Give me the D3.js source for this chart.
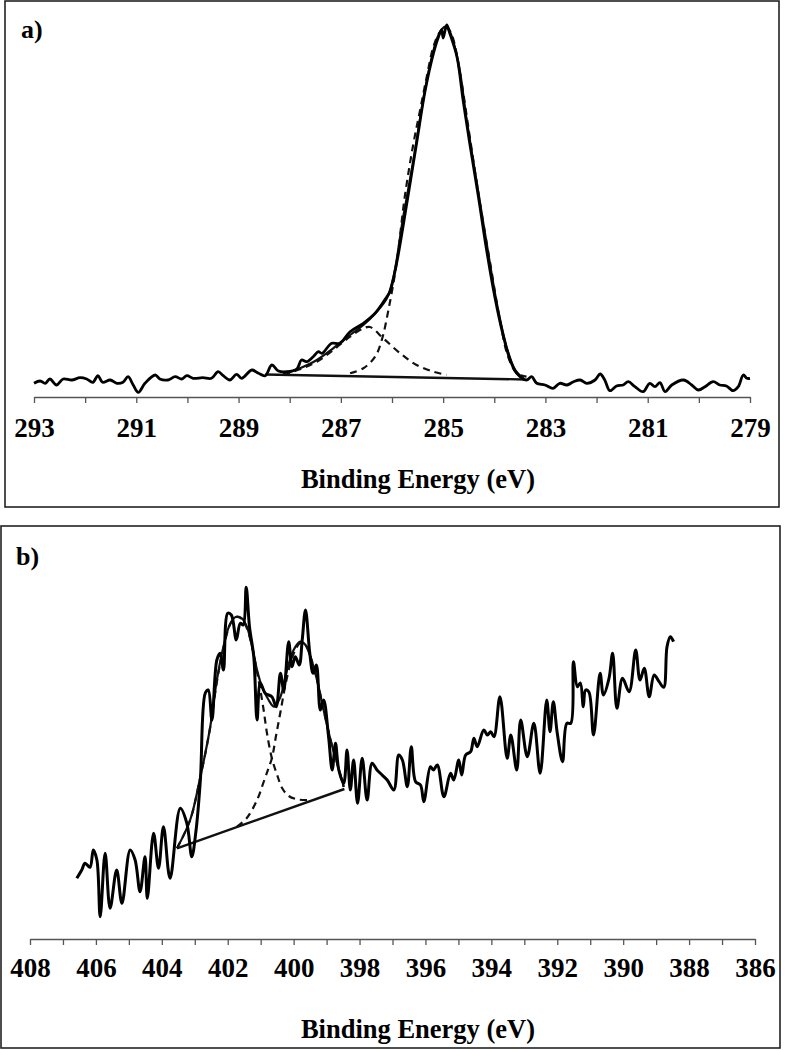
<!DOCTYPE html>
<html>
<head>
<meta charset="utf-8">
<script src="https://cdn.jsdelivr.net/npm/d3@7"></script>
<style>
  html, body { margin: 0; padding: 0; background: #fff; }
  svg { display: block; }
  text { font-family: "Liberation Serif", "Times New Roman", serif; font-weight: bold; fill: #000; }
</style>
</head>
<body>
<div id="chart"></div>
<script>
// C 1s region, panel a) : [binding energy (eV), intensity (a.u.)]
const c1sRaw = [
  [293.00, 13.7], [292.88, 16], [292.78, 13.7], [292.69, 18], [292.56, 12], [292.43, 18],
  [292.26, 17], [292.10, 19.3], [291.97, 18], [291.85, 14.7], [291.75, 21.3], [291.66, 14.7],
  [291.51, 17], [291.38, 13.7], [291.26, 14.7], [291.16, 20.3], [291.06, 12], [290.96, 4.7],
  [290.83, 13.7], [290.63, 22], [290.54, 18], [290.38, 17], [290.24, 20.3], [290.11, 18],
  [290.01, 21.3], [289.89, 18.7], [289.70, 19.3], [289.53, 18.7], [289.40, 25.3], [289.30, 21.3],
  [289.17, 17], [289.04, 22.7], [288.94, 18.7], [288.74, 27], [288.61, 23.7], [288.48, 21.3],
  [288.35, 32], [288.22, 26], [288.06, 25.3], [287.86, 28], [287.77, 37], [287.67, 35.3],
  [287.54, 40.3], [287.44, 45.3], [287.37, 43.7], [287.18, 53.7], [287.02, 53.7], [286.82, 65.3],
  [286.56, 73.7], [286.33, 83.7], [286.10, 100.3], [286.04, 105.3], [285.91, 133.7], [285.71, 193.7],
  [285.52, 253.7], [285.35, 307], [285.19, 343.7], [285.09, 360.3], [285.03, 367], [285.00, 359],
  [284.93, 372], [284.87, 363.7], [284.73, 340.3], [284.61, 297], [284.48, 253.7], [284.31, 200.3],
  [284.15, 147], [283.99, 100.3], [283.82, 60.3], [283.69, 37], [283.56, 23.7], [283.37, 17],
  [283.27, 20.3], [283.17, 13.7], [283.01, 12], [282.85, 8.7], [282.72, 13.7], [282.58, 12],
  [282.45, 15.3], [282.32, 17], [282.19, 13.7], [282.03, 17], [281.93, 23], [281.84, 17],
  [281.74, 6.3], [281.61, 11], [281.48, 12], [281.38, 15.3], [281.25, 10.3], [281.09, 5.3],
  [280.96, 13.7], [280.86, 10.3], [280.76, 14.3], [280.66, 5.3], [280.53, 12], [280.30, 17],
  [280.14, 12], [280.01, 7], [279.88, 10.3], [279.72, 15.3], [279.59, 12], [279.46, 11],
  [279.33, 6.3], [279.23, 10.3], [279.13, 22], [279.06, 18.7], [279.00, 18.7]
];
const c1sEnvelope = [
  [288.13, 22.5], [287.80, 28.7], [287.47, 37], [287.15, 48.7], [286.82, 62], [286.56, 72],
  [286.30, 85.3], [286.10, 98.7], [285.97, 120.3], [285.78, 180.3], [285.58, 237], [285.39, 297],
  [285.22, 340.3], [285.09, 362], [284.96, 370.3], [284.87, 365.3], [284.70, 333.7], [284.54, 277],
  [284.34, 213.7], [284.15, 153.7], [283.95, 93.7], [283.76, 50.3], [283.59, 27], [283.43, 18.7]
];
const c1sPeakMain = [
  [286.82, 23.7], [286.56, 28.7], [286.33, 40.3], [286.20, 57], [286.07, 87], [285.91, 133.7],
  [285.75, 200.3], [285.58, 253.7], [285.45, 287], [285.32, 320.3], [285.19, 350.3], [285.06, 365.3],
  [284.94, 370.3], [284.83, 362], [284.67, 323.7], [284.48, 260.3], [284.28, 193.7], [284.08, 133.7],
  [283.89, 77], [283.73, 40.3], [283.56, 23.7], [283.37, 20.3]
];
const c1sPeakShoulder = [
  [288.13, 22.5], [287.80, 27.7], [287.47, 35.3], [287.15, 47], [286.82, 60.3], [286.56, 68.7],
  [286.43, 70], [286.17, 58.7], [285.84, 43.7], [285.52, 32], [285.19, 25.3], [284.93, 22]
];
const c1sBackground = [[288.48, 22.5], [283.40, 17.5]];
const c1sTickLabels = [293, 291, 289, 287, 285, 283, 281, 279];

// N 1s region, panel b)
const n1sRaw = [
  [406.58, 60.7], [406.43, 69], [406.33, 75.7], [406.18, 71.7], [406.08, 89], [405.97, 79],
  [405.87, 22.3], [405.72, 85.7], [405.57, 30.7], [405.37, 69], [405.21, 35.7], [404.96, 89],
  [404.81, 79], [404.66, 47.3], [404.51, 82.3], [404.44, 40.7], [404.25, 105.7], [404.10, 70.7],
  [403.95, 112.3], [403.75, 60.7], [403.44, 130.7], [403.24, 115.7], [403.09, 82.3], [402.96, 109],
  [402.83, 159], [402.68, 246], [402.59, 249], [402.48, 219], [402.33, 279], [402.23, 285.7],
  [402.13, 269], [402.00, 325.7], [401.89, 324], [401.74, 299], [401.62, 315.7], [401.53, 314],
  [401.44, 351.7], [401.34, 312.3], [401.21, 282.3], [401.11, 219], [401.01, 255.7], [400.86, 245.7],
  [400.66, 242.3], [400.53, 232.3], [400.40, 265.7], [400.30, 249], [400.15, 297.3], [400.05, 272.3],
  [399.95, 282.3], [399.83, 274], [399.74, 299], [399.64, 329], [399.51, 285.7], [399.41, 265.7],
  [399.31, 274], [399.19, 229], [399.09, 239], [398.94, 202.3], [398.83, 169], [398.73, 195.7],
  [398.63, 169], [398.48, 155.7], [398.38, 189], [398.28, 149], [398.18, 179], [398.06, 135.7],
  [397.92, 180.7], [397.77, 139], [397.62, 175.7], [397.47, 169], [397.37, 165.7], [397.16, 159],
  [396.96, 149], [396.81, 184], [396.70, 179], [396.55, 152.3], [396.43, 192.3], [396.30, 157.3],
  [396.15, 154], [396.05, 137.3], [395.85, 172.3], [395.76, 169], [395.64, 174], [395.44, 142.3],
  [395.24, 165.7], [395.14, 159], [394.99, 179], [394.90, 164], [394.78, 184], [394.63, 187.3],
  [394.53, 200.7], [394.43, 192.3], [394.23, 209], [394.12, 204], [394.02, 207.3], [393.92, 202.3],
  [393.74, 242.3], [393.52, 180.7], [393.41, 204], [393.23, 169], [393.11, 219], [392.91, 182.3],
  [392.71, 215.7], [392.52, 165.7], [392.32, 239], [392.22, 207.3], [392.12, 237.3], [392.00, 205.7],
  [391.84, 177.3], [391.71, 215.7], [391.59, 215.7], [391.51, 277.3], [391.39, 252.3], [391.30, 256],
  [391.21, 232.3], [391.14, 249], [391.04, 247], [390.90, 204], [390.70, 265.7], [390.60, 244],
  [390.43, 260.7], [390.32, 285.7], [390.19, 230.7], [390.02, 260.7], [389.82, 247.3], [389.62, 289],
  [389.49, 259], [389.36, 270.7], [389.21, 242.3], [389.06, 264], [388.91, 257.3], [388.77, 251.7],
  [388.67, 292.3], [388.57, 302.3], [388.47, 297.3]
];
const n1sEnvelope = [
  [403.54, 90.7], [403.14, 119], [402.83, 162.3], [402.53, 212.3], [402.33, 259], [402.13, 292.3],
  [401.92, 315.7], [401.74, 322.3], [401.57, 320.7], [401.42, 312.3], [401.26, 292.3], [401.11, 269],
  [400.96, 252.3], [400.76, 239], [400.59, 232.3], [400.40, 242.3], [400.20, 269], [400.00, 289],
  [399.80, 297.3], [399.64, 294], [399.49, 282.3], [399.29, 259], [399.09, 229], [398.88, 199],
  [398.68, 175.7], [398.48, 152.3]
];
const n1sPeakHigh = [
  [403.54, 90.7], [403.14, 119], [402.83, 162], [402.53, 212], [402.33, 257], [402.13, 291],
  [401.92, 315], [401.74, 322], [401.57, 320], [401.42, 311], [401.26, 292.3], [401.11, 267],
  [401.01, 249], [400.91, 229], [400.81, 206], [400.66, 180.7], [400.50, 164], [400.35, 151],
  [400.15, 143], [399.86, 139.5], [399.44, 139]
];
const n1sPeakLow = [
  [401.72, 112.3], [401.42, 121], [401.11, 139], [400.91, 157], [400.76, 171], [400.66, 180.7],
  [400.53, 204], [400.40, 227], [400.25, 254], [400.10, 275], [399.95, 289], [399.80, 296],
  [399.64, 294], [399.49, 282.3], [399.29, 259], [399.09, 229], [398.88, 199], [398.68, 175.7],
  [398.48, 152]
];
const n1sBackground = [[403.54, 90.7], [398.46, 150]];
const n1sTickLabels = [408, 406, 404, 402, 400, 398, 396, 394, 392, 390, 388, 386];

const width = 785;
const height = 1050;
const axisTitle = "Binding Energy (eV)";

const panels = [
  {
    label: "a)",
    box: { x: 5, y: 1, w: 774, h: 506 },
    labelPos: [21, 38],
    x: d3.scaleLinear([293, 279], [34, 750]),
    y: d3.scaleLinear([0, 370], [397, 27]),
    axisY: 397,
    tickLabels: c1sTickLabels,
    labelDy: 40,
    titleY: 488,
    raw: c1sRaw,
    rawWidth: 2.8,
    envelope: c1sEnvelope,
    peaks: [c1sPeakMain, c1sPeakShoulder],
    background: c1sBackground,
  },
  {
    label: "b)",
    box: { x: 1, y: 526, w: 779, h: 522 },
    labelPos: [16, 565],
    x: d3.scaleLinear([408, 386], [30, 755]),
    y: d3.scaleLinear([0, 400], [939, 539]),
    axisY: 939,
    tickLabels: n1sTickLabels,
    labelDy: 38,
    titleY: 1038,
    raw: n1sRaw,
    rawWidth: 3,
    envelope: n1sEnvelope,
    peaks: [n1sPeakHigh, n1sPeakLow],
    background: n1sBackground,
  },
];

const svg = d3
  .select("#chart")
  .append("svg")
  .attr("width", width)
  .attr("height", height)
  .attr("viewBox", `0 0 ${width} ${height}`);

panels.forEach((p) => {
  const g = svg.append("g");

  g.append("rect")
    .attr("x", p.box.x)
    .attr("y", p.box.y)
    .attr("width", p.box.w)
    .attr("height", p.box.h)
    .attr("fill", "none")
    .attr("stroke", "#222")
    .attr("stroke-width", 1.6);

  g.append("text")
    .attr("x", p.labelPos[0])
    .attr("y", p.labelPos[1])
    .style("font-size", "26px")
    .text(p.label);

  // every integer gets a tick, every second one a label
  const [d0, d1] = p.x.domain();
  const allTicks = d3.range(Math.min(d0, d1), Math.max(d0, d1) + 1, 1);
  const axis = d3
    .axisBottom(p.x)
    .tickValues(allTicks)
    .tickSize(6)
    .tickSizeOuter(0)
    .tickFormat((v) => (p.tickLabels.includes(v) ? String(v) : ""));

  const ax = g
    .append("g")
    .attr("transform", `translate(0, ${p.axisY})`)
    .call(axis);
  ax.select(".domain").attr("stroke", "#555").attr("stroke-width", 1.3);
  ax.selectAll(".tick line").attr("stroke", "#555").attr("stroke-width", 1.3);
  ax.selectAll(".tick text")
    .attr("dy", null)
    .attr("y", p.labelDy)
    .attr("fill", "#000")
    .style("font-family", '"Liberation Serif", "Times New Roman", serif')
    .style("font-weight", "bold")
    .style("font-size", "27px");

  g.append("text")
    .attr("x", 418)
    .attr("y", p.titleY)
    .attr("text-anchor", "middle")
    .style("font-size", "26.5px")
    .text(axisTitle);

  const smooth = d3
    .line()
    .x((d) => p.x(d[0]))
    .y((d) => p.y(d[1]))
    .curve(d3.curveCatmullRom.alpha(0.5));
  const straight = d3
    .line()
    .x((d) => p.x(d[0]))
    .y((d) => p.y(d[1]));

  g.selectAll("path.peak")
    .data(p.peaks)
    .join("path")
    .attr("class", "peak")
    .attr("d", smooth)
    .attr("fill", "none")
    .attr("stroke", "#111")
    .attr("stroke-width", 2.2)
    .attr("stroke-dasharray", "7,5");

  g.append("path")
    .attr("d", straight(p.background))
    .attr("fill", "none")
    .attr("stroke", "#111")
    .attr("stroke-width", 2.4);

  g.append("path")
    .attr("d", smooth(p.envelope))
    .attr("fill", "none")
    .attr("stroke", "#111")
    .attr("stroke-width", 2.2);

  g.append("path")
    .attr("d", smooth(p.raw))
    .attr("fill", "none")
    .attr("stroke", "#000")
    .attr("stroke-width", p.rawWidth)
    .attr("stroke-linejoin", "round");
});
</script>
</body>
</html>
